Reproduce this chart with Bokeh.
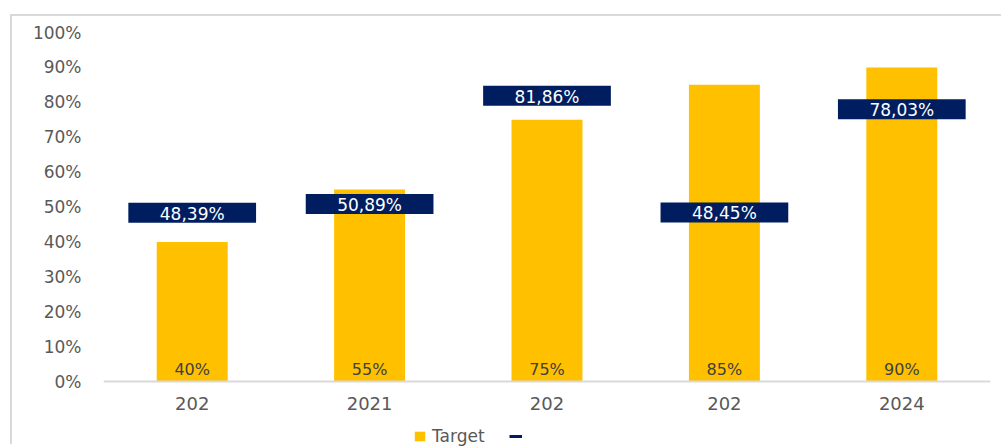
from bokeh.plotting import figure
from bokeh.models import (ColumnDataSource, Range1d, FixedTicker, NumeralTickFormatter,
                          Legend, LegendItem)
from bokeh.core.properties import value
from bokeh.embed import file_html
from bokeh.resources import INLINE

# ---- data ----
year_labels = ["202", "2021", "202", "202", "2024"]
target = [0.40, 0.55, 0.75, 0.85, 0.90]
target_text = ["40%", "55%", "75%", "85%", "90%"]
actual = [0.4839, 0.5089, 0.8186, 0.4845, 0.7803]
actual_text = ["48,39%", "50,89%", "81,86%", "48,45%", "78,03%"]

xs = list(range(len(year_labels)))
src = ColumnDataSource(dict(x=xs, target=target, target_text=target_text,
                            actual=actual, actual_text=actual_text))

YELLOW = "#FFC000"
NAVY = "#001E5F"
GREY = "#595959"
FONT = "DejaVu Sans"

p = figure(width=991, height=430, output_backend="svg", toolbar_location=None,
           x_range=Range1d(-0.5, 4.5), y_range=Range1d(-0.1862, 1.0),
           min_border_left=91, min_border_right=13, min_border_top=16, min_border_bottom=0,
           margin=(14, 0, 0, 10))
p.styles = {"border-top": "2px solid #d9d9d9", "border-left": "2px solid #d9d9d9"}
p.outline_line_color = None
p.xgrid.grid_line_color = None
p.ygrid.grid_line_color = None
p.background_fill_color = "white"
p.border_fill_color = "white"

bars = p.vbar(x="x", top="target", width=0.4, source=src, fill_color=YELLOW, line_color=None)
p.text(x="x", y=0, text="target_text", source=src, text_align="center",
       text_baseline="alphabetic", y_offset=-12, text_font=value(FONT),
       text_font_size="16px", text_color="#404040")

p.rect(x="x", y="actual", width=0.72, height=20, height_units="screen", source=src,
       fill_color=NAVY, line_color=None)
p.text(x="x", y="actual", text="actual_text", source=src, text_align="center",
       text_baseline="middle", text_font=value(FONT), text_font_size="17px",
       text_color="white", y_offset=1)

# legend proxy for the navy dash (draws nothing on the plot)
dash = p.line(x=[float("nan")], y=[float("nan")], line_color=NAVY, line_width=3)

# axes
yax = p.yaxis[0]
yax.ticker = FixedTicker(ticks=[i / 10 for i in range(11)])
yax.formatter = NumeralTickFormatter(format="0%")
yax.axis_line_color = None
yax.major_tick_line_color = None
yax.minor_tick_line_color = None
yax.major_label_text_font = FONT
yax.major_label_text_font_size = "17px"
yax.major_label_text_color = GREY
yax.major_label_standoff = 16

xax = p.xaxis[0]
xax.fixed_location = 0
xax.ticker = FixedTicker(ticks=xs)
xax.major_label_overrides = {i: lab for i, lab in zip(xs, year_labels)}
xax.axis_line_color = "#d9d9d9"
xax.axis_line_width = 2
xax.major_tick_line_color = None
xax.minor_tick_line_color = None
xax.major_label_text_font = FONT
xax.major_label_text_font_size = "18px"
xax.major_label_text_color = GREY
xax.major_label_standoff = 9

legend = Legend(items=[LegendItem(label="Target", renderers=[bars]),
                       LegendItem(label=" ", renderers=[dash])],
                orientation="horizontal", location=(310, 0),
                glyph_width=13, glyph_height=12, label_text_font=FONT,
                label_text_font_size="17px", label_text_color=GREY,
                label_standoff=6, spacing=24, padding=2, margin=0,
                border_line_color=None, background_fill_alpha=0)
p.add_layout(legend)

open("out.html", "w").write(file_html(p, INLINE))
